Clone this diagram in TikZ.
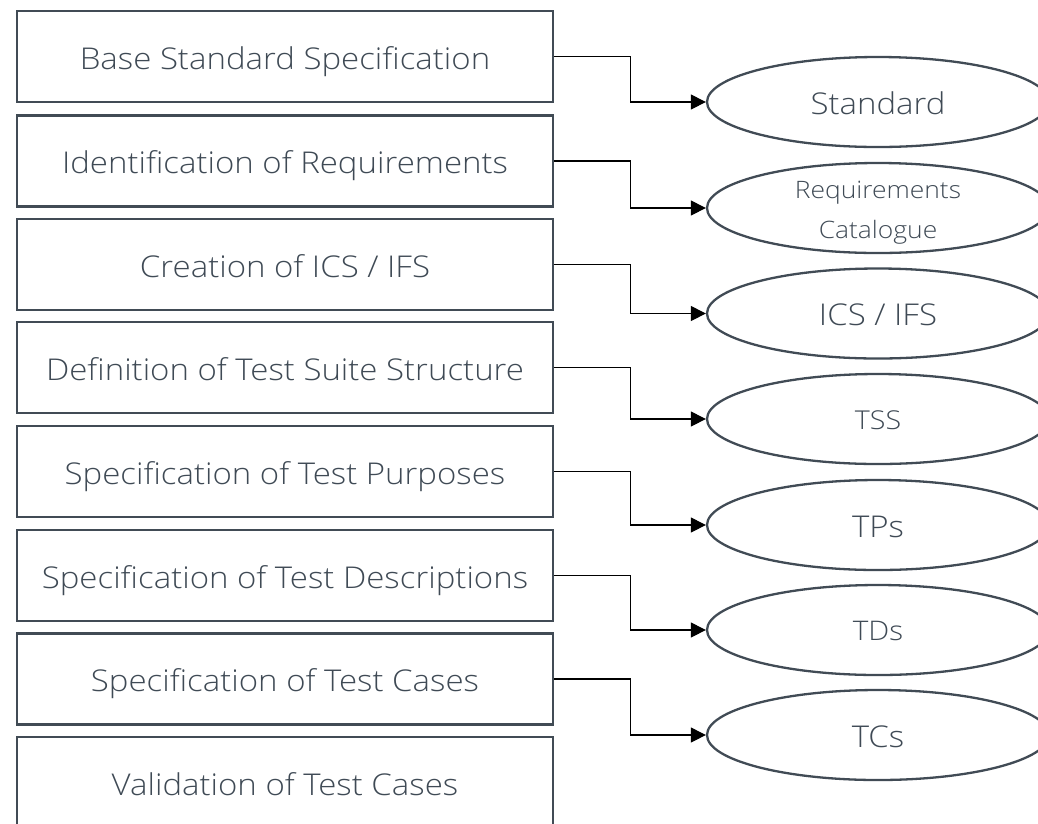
\documentclass[tikz,border=0pt]{standalone}
\usepackage{fontspec}
\setmainfont{Open Sans Light}[FakeStretch=1.1]
\usetikzlibrary{shapes.geometric,arrows.meta}
\definecolor{edge}{HTML}{414B55}
\definecolor{ink}{HTML}{3F4A55}
\tikzset{
  stage/.style={draw=edge, line width=2.7pt, minimum width=536pt, minimum height=91pt,
    inner sep=0pt, text=ink, font=\fontsize{30}{36}\selectfont,
    text height=25.4pt, text depth=0pt},
  product/.style={ellipse, draw=edge, line width=2.3pt, minimum width=342pt,
    minimum height=90pt, inner sep=0pt, text=ink, align=center},
  big/.style={font=\fontsize{30}{36}\selectfont, text height=24pt, text depth=0pt},
  mid/.style={font=\fontsize{27}{32}\selectfont, text height=21.3pt, text depth=0pt},
  small/.style={font=\fontsize{26}{31}\selectfont, text height=20.6pt, text depth=0pt},
  feed/.style={draw=black, line width=1.1pt, -{Triangle[length=15pt,width=15pt]}},
}
\begin{document}
\begin{tikzpicture}[x=1pt,y=-1pt]
\useasboundingbox (0,0) rectangle (1038,823);
\clip (0,0) rectangle (1038,823);
% process stages
\node[stage] (s1) at (285,56.5) {Base Standard Specification};
\node[stage] (s2) at (285,161) {Identification of Requirements};
\node[stage] (s3) at (285,264.5) {Creation of ICS / IFS};
\node[stage] (s4) at (285,367.5) {Definition of Test Suite Structure};
\node[stage] (s5) at (285,471.5) {Specification of Test Purposes};
\node[stage] (s6) at (285,575.5) {Specification of Test Descriptions};
\node[stage] (s7) at (285,679) {Specification of Test Cases};
\node[stage] (s8) at (285,782.5) {Validation of Test Cases};
% outputs of each stage
\node[product, big] (p1) at (878,102) {Standard};
\node[product] (p2) at (878,208) {};
\node[text=ink, align=center, inner sep=0pt, font=\fontsize{24}{40}\selectfont]
  (p2text) at (878,213) {Requirements\\Catalogue};
\node[product, big] (p3) at (878,313.5) {ICS / IFS};
\node[product, small] (p4) at (878,419) {TSS};
\node[product, big] (p5) at (878,525) {TPs};
\node[product, mid] (p6) at (878,630) {TDs};
\node[product, big] (p7) at (878,735) {TCs};
% stage -> output connectors
\foreach \i in {1,...,7}{
  \draw[feed] (s\i.east) -- ++(76,0) |- (p\i.west);
}
\end{tikzpicture}
\end{document}
